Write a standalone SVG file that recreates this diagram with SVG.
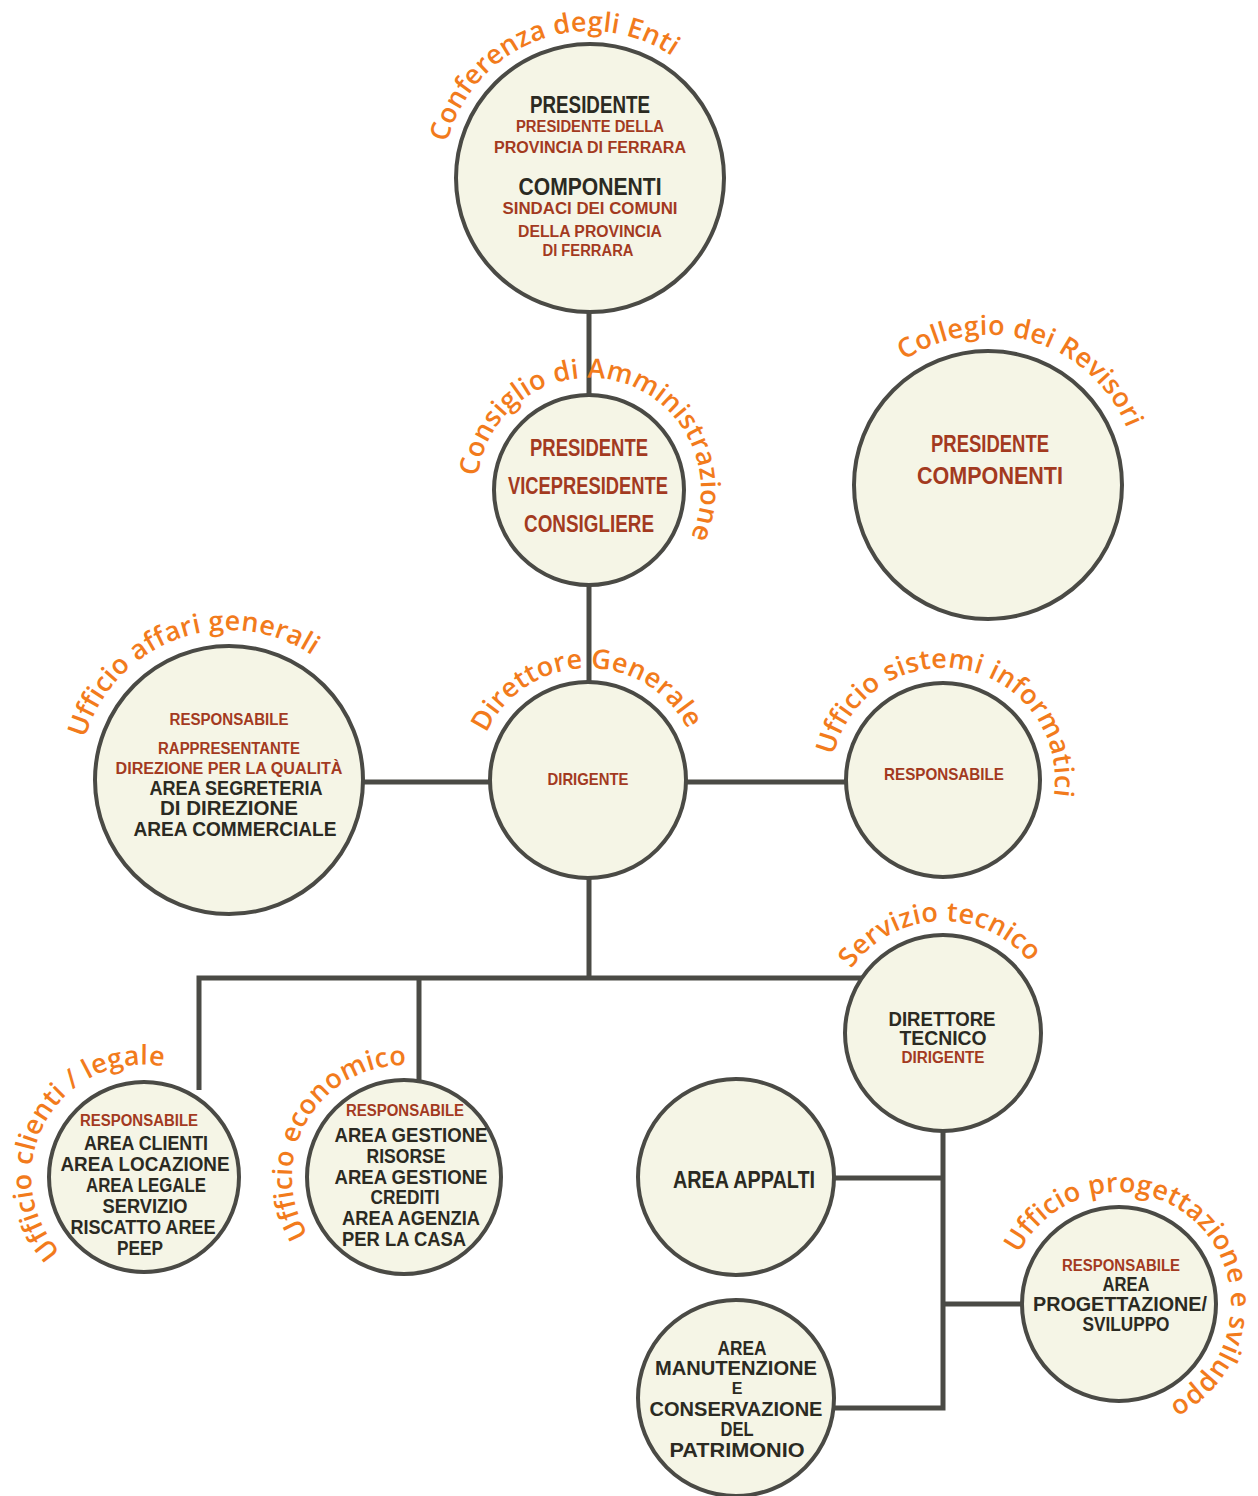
<svg xmlns="http://www.w3.org/2000/svg" width="1258" height="1496" viewBox="0 0 1258 1496">
<style>
.bg{fill:#ffffff}
.node{fill:#f5f5e6;stroke:#4a4a45;stroke-width:4}
.wire{fill:none;stroke:#4a4a45;stroke-width:5}
.lbl{font-family:"Open Sans","Noto Sans",sans-serif;font-size:27px;font-weight:600;fill:#f27b1c;letter-spacing:0.3px}
.t{font-family:"Liberation Sans",Arial,sans-serif;font-weight:700;text-anchor:middle}
.dk{fill:#2b2a22}
.rd{fill:#a33a1f}
.s24{font-size:24px}
.s21{font-size:21px}
.s20{font-size:20px}
.s17{font-size:17px}
.s16{font-size:16px}
</style>
<defs>
<path id="a1" d="M445.7,206 A147,147 0 0 1 716,102.3"/>
<path id="a2" d="M477.3,497.8 A112,112 0 1 1 679.6,555.8"/>
<path id="a3" d="M854.3,416.9 A150,150 0 0 1 1136.9,503.3"/>
<path id="a4" d="M81.3,806 A150,150 0 0 1 358.9,705"/>
<path id="a5" d="M477.4,762.5 A112,112 0 0 1 697.9,758.6"/>
<path id="a6" d="M831,779 A112,112 0 1 1 1047.9,819.2"/>
<path id="a7" d="M832.1,1017.4 A112,112 0 0 1 1052.5,1009.7"/>
<path id="a8" d="M88,1274 A112,112 0 0 1 196.6,1078.1"/>
<path id="a9" d="M332,1262.8 A112,112 0 0 1 442.3,1071.8"/>
<path id="a10" d="M1010.8,1275 A112,112 0 1 1 1148,1412.2"/>
</defs>
<rect class="bg" x="0" y="0" width="1258" height="1496"/>

<g id="connectors">
<path class="wire" d="M589,312 V395"/>
<path class="wire" d="M589,585 V684"/>
<path class="wire" d="M363,782 H490"/>
<path class="wire" d="M686,782 H846"/>
<path class="wire" d="M589,878 V978"/>
<path class="wire" d="M199,1090 V978 H865"/>
<path class="wire" d="M419,978 V1082"/>
<path class="wire" d="M943,1130 V1408 H834"/>
<path class="wire" d="M834,1178 H943"/>
<path class="wire" d="M943,1304 H1022"/>
</g>

<g id="conferenza">
<circle class="node" cx="590" cy="178" r="134"/>
<text class="lbl"><textPath href="#a1" startOffset="50%" text-anchor="middle">Conferenza degli Enti</textPath></text>
<text class="t dk s24" x="590" y="113" textLength="120" lengthAdjust="spacingAndGlyphs">PRESIDENTE</text>
<text class="t rd s16" x="590" y="132" textLength="148" lengthAdjust="spacingAndGlyphs">PRESIDENTE DELLA</text>
<text class="t rd s16" x="590" y="153" textLength="192" lengthAdjust="spacingAndGlyphs">PROVINCIA DI FERRARA</text>
<text class="t dk s24" x="590" y="195" textLength="143" lengthAdjust="spacingAndGlyphs">COMPONENTI</text>
<text class="t rd s16" x="590" y="214" textLength="175" lengthAdjust="spacingAndGlyphs">SINDACI DEI COMUNI</text>
<text class="t rd s16" x="590" y="237" textLength="144" lengthAdjust="spacingAndGlyphs">DELLA PROVINCIA</text>
<text class="t rd s16" x="588" y="256" textLength="91" lengthAdjust="spacingAndGlyphs">DI FERRARA</text>
</g>

<g id="consiglio">
<circle class="node" cx="589" cy="490" r="95"/>
<text class="lbl"><textPath href="#a2" startOffset="50%" text-anchor="middle">Consiglio di Amministrazione</textPath></text>
<text class="t rd s24" x="589" y="456" textLength="118" lengthAdjust="spacingAndGlyphs">PRESIDENTE</text>
<text class="t rd s24" x="588" y="494" textLength="160" lengthAdjust="spacingAndGlyphs">VICEPRESIDENTE</text>
<text class="t rd s24" x="589" y="532" textLength="130" lengthAdjust="spacingAndGlyphs">CONSIGLIERE</text>
</g>

<g id="collegio">
<circle class="node" cx="988" cy="485" r="134"/>
<text class="lbl"><textPath href="#a3" startOffset="50%" text-anchor="middle">Collegio dei Revisori</textPath></text>
<text class="t rd s24" x="990" y="452" textLength="118" lengthAdjust="spacingAndGlyphs">PRESIDENTE</text>
<text class="t rd s24" x="990" y="484" textLength="146" lengthAdjust="spacingAndGlyphs">COMPONENTI</text>
</g>

<g id="affari-generali">
<circle class="node" cx="229" cy="780" r="134"/>
<text class="lbl"><textPath href="#a4" startOffset="50%" text-anchor="middle">Ufficio affari generali</textPath></text>
<text class="t rd s16" x="229" y="725" textLength="119" lengthAdjust="spacingAndGlyphs">RESPONSABILE</text>
<text class="t rd s16" x="229" y="754" textLength="142" lengthAdjust="spacingAndGlyphs">RAPPRESENTANTE</text>
<text class="t rd s16" x="229" y="774" textLength="227" lengthAdjust="spacingAndGlyphs">DIREZIONE PER LA QUALITÀ</text>
<text class="t dk s20" x="236" y="795" textLength="173" lengthAdjust="spacingAndGlyphs">AREA SEGRETERIA</text>
<text class="t dk s20" x="229" y="815" textLength="138" lengthAdjust="spacingAndGlyphs">DI DIREZIONE</text>
<text class="t dk s20" x="235" y="836" textLength="203" lengthAdjust="spacingAndGlyphs">AREA COMMERCIALE</text>
</g>

<g id="direttore-generale">
<circle class="node" cx="588" cy="780" r="98"/>
<text class="lbl"><textPath href="#a5" startOffset="50%" text-anchor="middle">Direttore Generale</textPath></text>
<text class="t rd s17" x="588" y="785" textLength="81" lengthAdjust="spacingAndGlyphs">DIRIGENTE</text>
</g>

<g id="sistemi-informatici">
<circle class="node" cx="943" cy="780" r="97"/>
<text class="lbl"><textPath href="#a6" startOffset="50%" text-anchor="middle">Ufficio sistemi informatici</textPath></text>
<text class="t rd s17" x="944" y="780" textLength="120" lengthAdjust="spacingAndGlyphs">RESPONSABILE</text>
</g>

<g id="servizio-tecnico">
<circle class="node" cx="943" cy="1033" r="98"/>
<text class="lbl"><textPath href="#a7" startOffset="50%" text-anchor="middle">Servizio tecnico</textPath></text>
<text class="t dk s21" x="942" y="1026" textLength="107" lengthAdjust="spacingAndGlyphs">DIRETTORE</text>
<text class="t dk s21" x="943" y="1045" textLength="87" lengthAdjust="spacingAndGlyphs">TECNICO</text>
<text class="t rd s16" x="943" y="1063" textLength="83" lengthAdjust="spacingAndGlyphs">DIRIGENTE</text>
</g>

<g id="clienti-legale">
<circle class="node" cx="144" cy="1177" r="95"/>
<text class="lbl"><textPath href="#a8" startOffset="50%" text-anchor="middle">Ufficio clienti / legale</textPath></text>
<text class="t rd s16" x="139" y="1126" textLength="118" lengthAdjust="spacingAndGlyphs">RESPONSABILE</text>
<text class="t dk s20" x="146" y="1150" textLength="124" lengthAdjust="spacingAndGlyphs">AREA CLIENTI</text>
<text class="t dk s20" x="145" y="1171" textLength="169" lengthAdjust="spacingAndGlyphs">AREA LOCAZIONE</text>
<text class="t dk s20" x="146" y="1192" textLength="120" lengthAdjust="spacingAndGlyphs">AREA LEGALE</text>
<text class="t dk s20" x="145" y="1213" textLength="85" lengthAdjust="spacingAndGlyphs">SERVIZIO</text>
<text class="t dk s20" x="143" y="1234" textLength="145" lengthAdjust="spacingAndGlyphs">RISCATTO AREE</text>
<text class="t dk s20" x="140" y="1255" textLength="46" lengthAdjust="spacingAndGlyphs">PEEP</text>
</g>

<g id="economico">
<circle class="node" cx="404" cy="1177" r="97"/>
<text class="lbl"><textPath href="#a9" startOffset="50%" text-anchor="middle">Ufficio economico</textPath></text>
<text class="t rd s16" x="405" y="1116" textLength="118" lengthAdjust="spacingAndGlyphs">RESPONSABILE</text>
<text class="t dk s20" x="411" y="1142" textLength="153" lengthAdjust="spacingAndGlyphs">AREA GESTIONE</text>
<text class="t dk s20" x="406" y="1163" textLength="79" lengthAdjust="spacingAndGlyphs">RISORSE</text>
<text class="t dk s20" x="411" y="1184" textLength="153" lengthAdjust="spacingAndGlyphs">AREA GESTIONE</text>
<text class="t dk s20" x="405" y="1204" textLength="69" lengthAdjust="spacingAndGlyphs">CREDITI</text>
<text class="t dk s20" x="411" y="1225" textLength="138" lengthAdjust="spacingAndGlyphs">AREA AGENZIA</text>
<text class="t dk s20" x="404" y="1246" textLength="124" lengthAdjust="spacingAndGlyphs">PER LA CASA</text>
</g>

<g id="area-appalti">
<circle class="node" cx="736" cy="1177" r="98"/>
<text class="t dk s24" x="744" y="1188" textLength="142" lengthAdjust="spacingAndGlyphs">AREA APPALTI</text>
</g>

<g id="progettazione-sviluppo">
<circle class="node" cx="1119" cy="1304" r="97"/>
<text class="lbl"><textPath href="#a10" startOffset="50%" text-anchor="middle">Ufficio progettazione e sviluppo</textPath></text>
<text class="t rd s16" x="1121" y="1271" textLength="118" lengthAdjust="spacingAndGlyphs">RESPONSABILE</text>
<text class="t dk s20" x="1126" y="1291" textLength="47" lengthAdjust="spacingAndGlyphs">AREA</text>
<text class="t dk s20" x="1120" y="1311" textLength="174" lengthAdjust="spacingAndGlyphs">PROGETTAZIONE/</text>
<text class="t dk s20" x="1126" y="1331" textLength="87" lengthAdjust="spacingAndGlyphs">SVILUPPO</text>
</g>

<g id="area-manutenzione">
<circle class="node" cx="736" cy="1398" r="98"/>
<text class="t dk s20" x="742" y="1355" textLength="49" lengthAdjust="spacingAndGlyphs">AREA</text>
<text class="t dk s20" x="736" y="1375" textLength="162" lengthAdjust="spacingAndGlyphs">MANUTENZIONE</text>
<text class="t dk s16" x="737" y="1394">E</text>
<text class="t dk s20" x="736" y="1416" textLength="173" lengthAdjust="spacingAndGlyphs">CONSERVAZIONE</text>
<text class="t dk s20" x="737" y="1436" textLength="33" lengthAdjust="spacingAndGlyphs">DEL</text>
<text class="t dk s20" x="737" y="1457" textLength="135" lengthAdjust="spacingAndGlyphs">PATRIMONIO</text>
</g>
</svg>
